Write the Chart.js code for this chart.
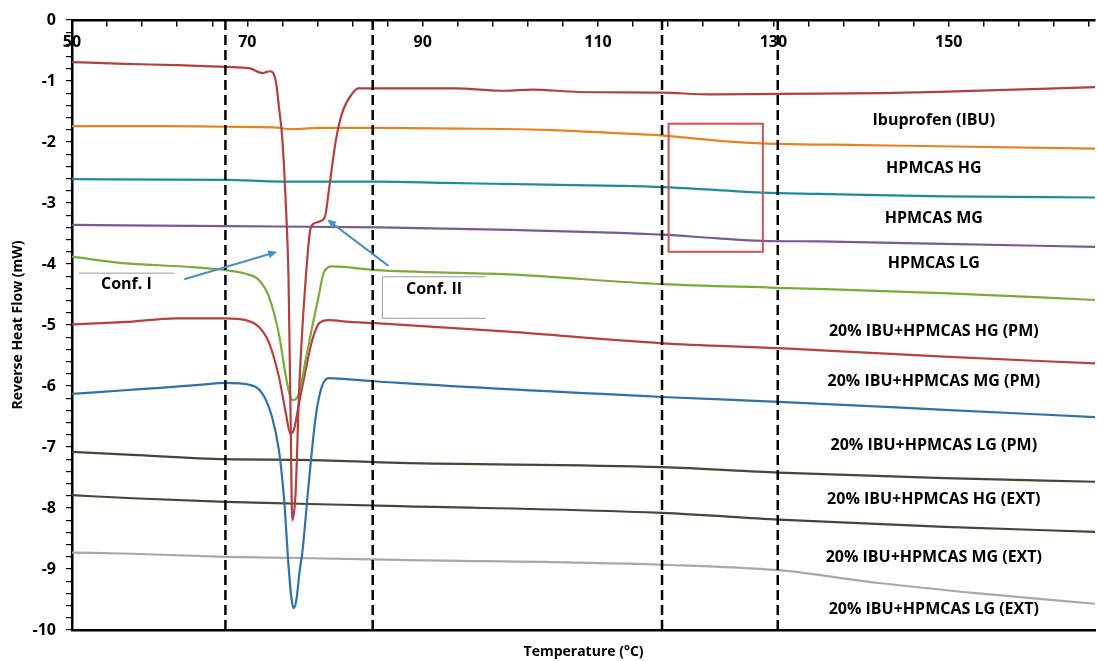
<!DOCTYPE html>
<html>
<head>
<meta charset="utf-8">
<script src="https://cdn.jsdelivr.net/npm/chart.js@4.4.1/dist/chart.umd.min.js"></script>
<style>
  html, body { margin: 0; padding: 0; background: #fff; }
  #myChart { display: block; }
</style>
</head>
<body>
<canvas id="myChart" width="1097" height="661"></canvas>
<script>
// axis ticks
var xTickLabels = [50, 70, 90, 110, 130, 150];
var yTickLabels = [0, -1, -2, -3, -4, -5, -6, -7, -8, -9, -10];

// Ibuprofen (IBU)
var ibuT = [50, 56, 62, 67.6, 70.2, 71.7, 72.6, 73.0, 73.3, 73.6, 74.0, 74.4, 74.7, 74.95, 75.12, 75.5, 75.9, 76.3, 76.65, 76.9, 77.2, 77.7, 78.3, 78.9, 79.3, 80.1, 80.8, 82.0, 82.7, 88, 93.7, 99.4, 102.5, 107.8, 117.2, 122.9, 130.5, 142.3, 150.7, 166.7];
var ibuY = [-0.69, -0.72, -0.74, -0.77, -0.79, -0.87, -0.84, -0.88, -1.05, -1.42, -1.97, -3.06, -4.26, -6.67, -8.2, -7.76, -6.1, -5.0, -4.26, -3.8, -3.42, -3.33, -3.3, -3.2, -2.79, -1.97, -1.53, -1.2, -1.12, -1.12, -1.12, -1.16, -1.14, -1.18, -1.19, -1.22, -1.21, -1.2, -1.17, -1.1];

// HPMCAS HG
var hgT = [50, 60, 67.6, 73, 75, 78, 85, 94.5, 104, 111.5, 117.2, 122.9, 126.8, 130.6, 140, 148.8, 166.7];
var hgY = [-1.74, -1.74, -1.75, -1.76, -1.79, -1.77, -1.77, -1.78, -1.80, -1.85, -1.89, -1.97, -2.01, -2.03, -2.05, -2.07, -2.11];

// HPMCAS MG
var mgT = [50, 67.6, 74, 85, 92.6, 104, 112.4, 117.3, 123.7, 128.7, 135.2, 149.5, 166.7];
var mgY = [-2.61, -2.62, -2.65, -2.65, -2.67, -2.70, -2.72, -2.74, -2.79, -2.83, -2.85, -2.89, -2.91];

// HPMCAS LG
var lgT = [50, 67.6, 85, 100, 112.4, 117.3, 123.7, 128.7, 135.2, 149.5, 166.7];
var lgY = [-3.36, -3.38, -3.40, -3.44, -3.49, -3.52, -3.58, -3.62, -3.63, -3.67, -3.72];

// 20% IBU+HPMCAS HG (PM)
var hgPmT = [50, 56.2, 63.7, 67.5, 69.8, 71.3, 72.5, 73.6, 74.4, 74.9, 75.15, 75.9, 76.65, 77.4, 78.2, 78.7, 79.7, 84.6, 99.8, 117.3, 130.5, 150, 166.7];
var hgPmY = [-3.88, -3.99, -4.05, -4.10, -4.16, -4.26, -4.55, -5.15, -5.85, -6.18, -6.23, -6.12, -5.57, -5.03, -4.48, -4.15, -4.04, -4.10, -4.17, -4.33, -4.39, -4.48, -4.59];

// 20% IBU+HPMCAS MG (PM)
var mgPmT = [50, 56.2, 61.8, 67.5, 69.8, 71.3, 72.5, 73.6, 74.4, 74.9, 75.3, 75.9, 76.65, 77.4, 78.2, 79.3, 81.6, 84.6, 99.8, 117.3, 130.6, 149.5, 166.7];
var mgPmY = [-4.99, -4.95, -4.89, -4.89, -4.92, -5.03, -5.3, -5.85, -6.45, -6.78, -6.72, -6.28, -5.74, -5.25, -4.97, -4.92, -4.95, -4.97, -5.11, -5.30, -5.38, -5.52, -5.63];

// 20% IBU+HPMCAS LG (PM)
var lgPmT = [50, 56, 60, 64.5, 67.5, 70.2, 71.7, 72.8, 73.6, 74.2, 74.7, 75.05, 75.3, 75.6, 75.95, 76.3, 77.0, 77.8, 78.5, 79.3, 81.6, 87.3, 117.3, 130.6, 149.5, 166.7];
var lgPmY = [-6.13, -6.07, -6.03, -5.98, -5.95, -5.98, -6.12, -6.50, -7.05, -7.87, -8.95, -9.5, -9.64, -9.5, -9.05, -8.69, -7.60, -6.50, -6.01, -5.87, -5.89, -5.95, -6.18, -6.26, -6.39, -6.51];

// 20% IBU+HPMCAS HG / MG (EXT)
var extT = [50, 56.9, 67.5, 75.9, 87.3, 117.3, 130.6, 149.5, 166.7];
var hgExtY = [-7.08, -7.13, -7.20, -7.21, -7.26, -7.33, -7.42, -7.51, -7.57];
var mgExtY = [-7.79, -7.84, -7.90, -7.93, -7.97, -8.08, -8.19, -8.31, -8.39];

// 20% IBU+HPMCAS LG (EXT)
var lgExtT = [50, 56.9, 67.5, 75.9, 87.3, 117.3, 130.6, 142, 153.4, 166.7];
var lgExtY = [-8.73, -8.75, -8.80, -8.82, -8.85, -8.93, -9.02, -9.23, -9.40, -9.57];

var seriesNames = ['Ibuprofen (IBU)', 'HPMCAS HG', 'HPMCAS MG', 'HPMCAS LG',
  '20% IBU+HPMCAS HG (PM)', '20% IBU+HPMCAS MG (PM)', '20% IBU+HPMCAS LG (PM)',
  '20% IBU+HPMCAS HG (EXT)', '20% IBU+HPMCAS MG (EXT)', '20% IBU+HPMCAS LG (EXT)'];
var seriesColors = ['#b0413e', '#e8821e', '#1f8b9b', '#7b5a91', '#7aab3c', '#b8403d', '#2f72a8', '#4a4530', '#4a4530', '#a8a8a8'];
var seriesT = [ibuT, hgT, mgT, lgT, hgPmT, mgPmT, lgPmT, extT, extT, lgExtT];
var seriesY = [ibuY, hgY, mgY, lgY, hgPmY, mgPmY, lgPmY, hgExtY, mgExtY, lgExtY];

// label spots (temperature, flow) for the names on the right
var labelTemp = 148.3;
var labelFlow = [-1.64, -2.43, -3.25, -3.99, -5.11, -5.93, -6.97, -7.86, -8.81, -9.67];

// annotations
var vLineTemps = [67.5, 84.3, 117.3, 130.5];
var boxT = [118.05, 128.8];
var boxFlow = [-1.70, -3.80];

Chart.defaults.font.family = "'Open Sans', sans-serif";
Chart.defaults.color = '#000';

var datasets = seriesNames.map(function(name, i) {
  return {
    label: name,
    data: seriesT[i].map(function(t, j) { return { x: t, y: seriesY[i][j] }; }),
    borderColor: seriesColors[i],
    borderWidth: 2.2,
    pointRadius: 0,
    cubicInterpolationMode: 'monotone',
    fill: false
  };
});

function arrow(c, x1, y1, x2, y2) {
  var a = Math.atan2(y2 - y1, x2 - x1);
  c.beginPath();
  c.moveTo(x1, y1);
  c.lineTo(x2 - 6 * Math.cos(a), y2 - 6 * Math.sin(a));
  c.stroke();
  c.beginPath();
  c.moveTo(x2, y2);
  c.lineTo(x2 - 9 * Math.cos(a) + 4 * Math.sin(a), y2 - 9 * Math.sin(a) - 4 * Math.cos(a));
  c.lineTo(x2 - 9 * Math.cos(a) - 4 * Math.sin(a), y2 - 9 * Math.sin(a) + 4 * Math.cos(a));
  c.closePath();
  c.fill();
}

var overlay = {
  id: 'overlay',
  afterDatasetsDraw: function(chart) {
    var c = chart.ctx, sx = chart.scales.x, sy = chart.scales.y;
    var px = function(t) { return sx.getPixelForValue(t); };
    var py = function(v) { return sy.getPixelForValue(v); };
    c.save();

    // dashed vertical lines
    c.strokeStyle = '#000';
    c.lineWidth = 2.5;
    c.setLineDash([10, 5]);
    vLineTemps.forEach(function(t) {
      c.beginPath();
      c.moveTo(px(t), py(0));
      c.lineTo(px(t), py(-10));
      c.stroke();
    });
    c.setLineDash([]);

    // red box
    c.strokeStyle = '#cc5555';
    c.lineWidth = 2;
    c.strokeRect(px(boxT[0]), py(boxFlow[0]), px(boxT[1]) - px(boxT[0]), py(boxFlow[1]) - py(boxFlow[0]));

    // Conf. I / Conf. II marks
    c.strokeStyle = '#999';
    c.lineWidth = 1;
    c.beginPath();
    c.moveTo(px(50.8), py(-4.15));
    c.lineTo(px(61.7), py(-4.15));
    c.stroke();
    c.beginPath();
    c.moveTo(px(97.2), py(-4.21));
    c.lineTo(px(85.4), py(-4.21));
    c.lineTo(px(85.4), py(-4.89));
    c.lineTo(px(97.2), py(-4.89));
    c.stroke();

    // arrows
    c.strokeStyle = '#4a8fc4';
    c.fillStyle = '#4a8fc4';
    c.lineWidth = 2;
    arrow(c, px(62.8), py(-4.25), px(73.4), py(-3.80));
    arrow(c, px(86.1), py(-4.03), px(79.1), py(-3.27));

    // texts
    c.fillStyle = '#000';
    c.font = "bold 16px 'Open Sans'";
    c.textAlign = 'center';
    c.textBaseline = 'middle';
    c.fillText('Conf. I', px(56.2), py(-4.34));
    c.fillText('Conf. II', px(91.3), py(-4.41));
    seriesNames.forEach(function(name, i) {
      c.fillText(name, px(labelTemp), py(labelFlow[i]));
    });
    c.restore();
  }
};

var ctx = document.getElementById('myChart').getContext('2d');
var chart = new Chart(ctx, {
  type: 'line',
  data: { datasets: datasets },
  options: {
    responsive: false,
    animation: false,
    layout: { padding: { top: 20, right: 0, left: 0, bottom: 0 } },
    plugins: { legend: { display: false }, tooltip: { enabled: false } },
    scales: {
      x: {
        type: 'linear',
        min: 50,
        max: 166.7,
        position: { y: 0 },
        afterBuildTicks: function(scale) {
          var t = [];
          for (var v = 50; v <= 166.7; v += 4) t.push({ value: v });
          scale.ticks = t;
        },
        ticks: {
          autoSkip: false,
          maxRotation: 0,
          padding: 8,
          font: { size: 16, weight: 'bold' },
          callback: function(v) { return xTickLabels.indexOf(v) >= 0 ? String(v) : ''; }
        },
        grid: { drawOnChartArea: false, drawTicks: true, tickLength: 5, color: '#000', lineWidth: 1.5 },
        border: { display: true, color: '#000', width: 2.5 }
      },
      x2: {
        type: 'linear',
        min: 50,
        max: 166.7,
        position: 'bottom',
        ticks: { display: false },
        grid: { display: false, drawTicks: false },
        border: { display: true, color: '#000', width: 2.5 },
        title: { display: true, text: 'Temperature (°C)', font: { size: 14, weight: 'bold' }, padding: { top: 13, bottom: 1 } },
        afterFit: function(scale) { scale.height = 31; }
      },
      y: {
        type: 'linear',
        min: -10,
        max: 0,
        position: 'left',
        afterBuildTicks: function(scale) {
          var t = [];
          for (var i = 0; i <= 50; i++) t.push({ value: -10 + i * 0.2 });
          scale.ticks = t;
        },
        ticks: {
          autoSkip: false,
          padding: 10,
          font: { size: 16, weight: 'bold' },
          callback: function(v) {
            var r = Math.round(v);
            return (Math.abs(v - r) < 1e-6 && yTickLabels.indexOf(r) >= 0) ? String(r) : '';
          }
        },
        grid: { drawOnChartArea: false, drawTicks: true, tickLength: 6, color: '#000', lineWidth: 1.2 },
        border: { display: true, color: '#000', width: 2.5 },
        title: { display: true, text: 'Reverse Heat Flow (mW)', font: { size: 14, weight: 'bold' }, padding: { top: 10, bottom: 6 } },
        afterFit: function(scale) { scale.width = 72; }
      }
    }
  },
  plugins: [overlay]
});
</script>
</body>
</html>
